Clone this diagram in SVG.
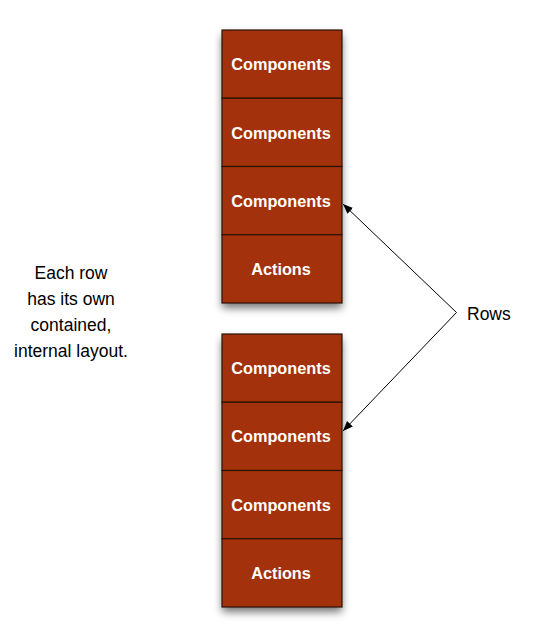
<svg xmlns="http://www.w3.org/2000/svg" width="533" height="640" viewBox="0 0 533 640">
<style>
.cell{fill:#a2310c;stroke:#2a1408;stroke-width:1.2}
.lbl{font-family:"Liberation Sans",Arial,sans-serif;font-weight:bold;font-size:16.3px;fill:#ffffff;text-anchor:middle}
.note{font-family:"Liberation Sans",Arial,sans-serif;font-size:17.5px;fill:#000000;text-anchor:middle}
.conn{fill:none;stroke:#000000;stroke-width:1}
</style>
<defs>
<filter id="sh" x="-20%" y="-10%" width="140%" height="130%">
<feGaussianBlur in="SourceAlpha" stdDeviation="4"/>
<feOffset dx="0" dy="5" result="b"/>
<feComponentTransfer><feFuncA type="linear" slope="0.55"/></feComponentTransfer>
<feMerge><feMergeNode/><feMergeNode in="SourceGraphic"/></feMerge>
</filter>
<marker id="ah" viewBox="0 0 10 10" refX="10" refY="5" markerWidth="10" markerHeight="10" markerUnits="userSpaceOnUse" orient="auto">
<path d="M0,1 L10,5 L0,9 z" fill="#000"/>
</marker>
</defs>
<rect x="222" y="30" width="120" height="273" fill="#a2310c" filter="url(#sh)"/>
<rect x="222" y="334" width="120" height="273" fill="#a2310c" filter="url(#sh)"/>
<g id="block1">
<g id="b1r1"><rect class="cell" x="222" y="30" width="120" height="68.25"/><text class="lbl" x="281" y="70">Components</text></g>
<g id="b1r2"><rect class="cell" x="222" y="98.25" width="120" height="68.25"/><text class="lbl" x="281" y="138.5">Components</text></g>
<g id="b1r3"><rect class="cell" x="222" y="166.5" width="120" height="68.25"/><text class="lbl" x="281" y="206.7">Components</text></g>
<g id="b1r4"><rect class="cell" x="222" y="234.75" width="120" height="68.25"/><text class="lbl" x="281" y="275">Actions</text></g>
</g>
<g id="block2">
<g id="b2r1"><rect class="cell" x="222" y="334" width="120" height="68.25"/><text class="lbl" x="281" y="374">Components</text></g>
<g id="b2r2"><rect class="cell" x="222" y="402.25" width="120" height="68.25"/><text class="lbl" x="281" y="442.3">Components</text></g>
<g id="b2r3"><rect class="cell" x="222" y="470.5" width="120" height="68.25"/><text class="lbl" x="281" y="510.5">Components</text></g>
<g id="b2r4"><rect class="cell" x="222" y="538.75" width="120" height="68.25"/><text class="lbl" x="281" y="578.7">Actions</text></g>
</g>
<g id="note">
<text class="note" x="71" y="279">Each row</text>
<text class="note" x="71" y="305">has its own</text>
<text class="note" x="71" y="331">contained,</text>
<text class="note" x="71" y="357">internal layout.</text>
</g>
<g id="rows-label"><text class="note" x="467" y="320" style="text-anchor:start">Rows</text></g>
<g id="connectors">
<path class="conn" d="M456.5,312.5 L343,204" marker-end="url(#ah)"/>
<path class="conn" d="M456.5,312.5 L343,431" marker-end="url(#ah)"/>
</g>
</svg>
